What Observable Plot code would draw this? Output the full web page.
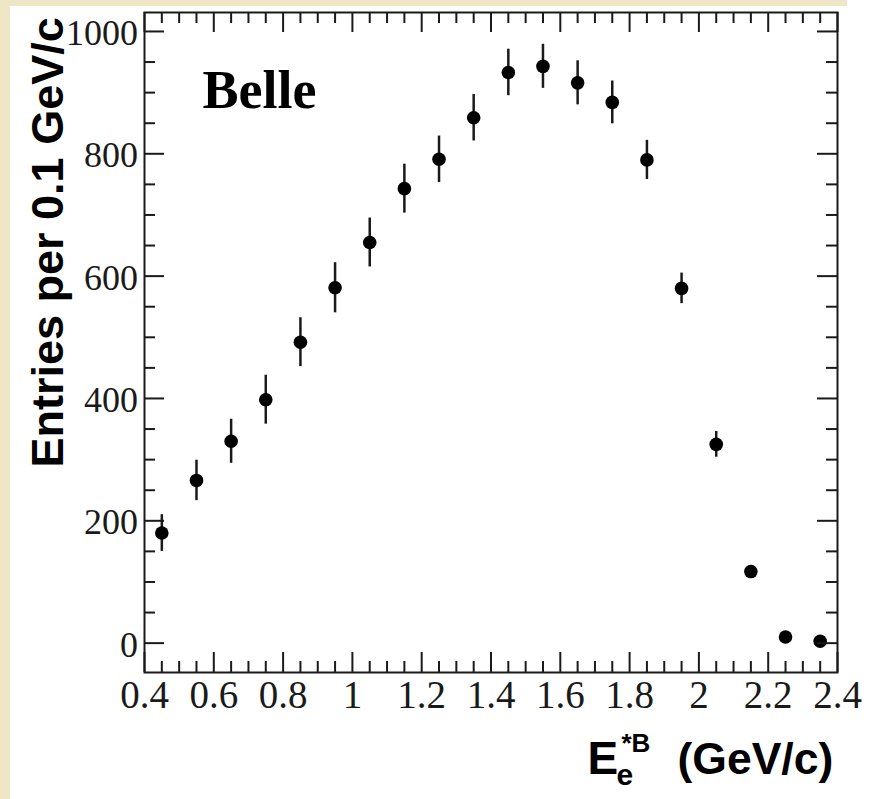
<!DOCTYPE html>
<html><head><meta charset="utf-8">
<script src="https://cdn.jsdelivr.net/npm/d3@7"></script>
<script src="https://cdn.jsdelivr.net/npm/@observablehq/plot@0.6"></script>
<style>
html,body{margin:0;padding:0;background:#fff;width:869px;height:799px;overflow:hidden;position:relative}
#bl{position:absolute;left:0;top:0;width:10px;height:799px;background:#efe6c5}
#bt{position:absolute;left:0;top:0;width:847px;height:6px;background:#efe6c5}
#chart{position:absolute;left:0;top:0}
</style></head><body>
<div id="bl"></div><div id="bt"></div><div id="chart"></div>
<script>
// Data
const binCenters = [0.45,0.55,0.65,0.75,0.85,0.95,1.05,1.15,1.25,1.35,1.45,1.55,1.65,1.75,1.85,1.95,2.05,2.15,2.25,2.35];
const entries    = [180, 266, 330, 398, 492, 581, 655, 743, 791, 859, 933, 943, 916, 884, 790, 580, 325, 117, 10, 3];
const errors     = [30, 33, 36, 40, 40, 41, 40, 40, 38, 38, 38, 36, 36, 35, 32, 25, 21, 9, 3, 1];

const xTickValues = [0.4,0.6,0.8,1.0,1.2,1.4,1.6,1.8,2.0,2.2,2.4];
const xTickLabels = ["0.4","0.6","0.8","1","1.2","1.4","1.6","1.8","2","2.2","2.4"];
const yTickValues = [0,200,400,600,800,1000];
const yTickLabels = ["0","200","400","600","800","1000"];

const xMinor = d3.range(0, 41).map(i => +(0.4 + i*0.05).toFixed(2)).filter(v => !xTickValues.some(t => Math.abs(t - v) < 1e-6));
const yMinor = d3.range(0, 21).map(i => i*50).filter(v => v % 200 !== 0);

const rows = binCenters.map((x, i) => ({x, y: entries[i], lo: entries[i] - errors[i], hi: entries[i] + errors[i]}));

const W = 869, H = 799, mL = 144, mR = 32, mT = 12, mB = 127;
const fw = W - mL - mR, fh = H - mT - mB;
const MAJ = 20, MIN = 11;
const ink = "#1a1a1a";
const serif = "Liberation Serif, Times New Roman, serif";
const sans = "Liberation Sans, Arial, Helvetica, sans-serif";

const plot = Plot.plot({
  width: W, height: H,
  marginLeft: mL, marginRight: mR, marginTop: mT, marginBottom: mB,
  style: {background: "transparent", overflow: "visible"},
  x: {domain: [0.4, 2.4], axis: null},
  y: {domain: [-48, 1031], axis: null},
  marks: [
    Plot.ruleX(rows, {x: "x", y1: "lo", y2: "hi", stroke: ink, strokeWidth: 2.5}),
    Plot.dot(rows, {x: "x", y: "y", r: 6.8, fill: "black", stroke: "none"}),
    // ticks bottom / top
    Plot.tickX(xTickValues, {x: d => d, insetTop: fh - MAJ, stroke: ink, strokeWidth: 2}),
    Plot.tickX(xMinor, {x: d => d, insetTop: fh - MIN, stroke: ink, strokeWidth: 2}),
    Plot.tickX(xTickValues, {x: d => d, insetBottom: fh - MAJ, stroke: ink, strokeWidth: 2}),
    Plot.tickX(xMinor, {x: d => d, insetBottom: fh - MIN, stroke: ink, strokeWidth: 2}),
    // ticks left / right
    Plot.tickY(yTickValues, {y: d => d, insetRight: fw - MAJ, stroke: ink, strokeWidth: 2}),
    Plot.tickY(yMinor, {y: d => d, insetRight: fw - MIN, stroke: ink, strokeWidth: 2}),
    Plot.tickY(yTickValues, {y: d => d, insetLeft: fw - MAJ, stroke: ink, strokeWidth: 2}),
    Plot.tickY(yMinor, {y: d => d, insetLeft: fw - MIN, stroke: ink, strokeWidth: 2}),
    Plot.frame({stroke: ink, strokeWidth: 2}),
    // tick labels
    Plot.text(xTickValues, {x: d => d, text: (d, i) => xTickLabels[i], frameAnchor: "bottom", dy: 8,
      lineAnchor: "top", textAnchor: "middle", fontSize: 39, fontFamily: serif, fill: ink}),
    Plot.text(yTickValues, {y: d => d, text: (d, i) => yTickLabels[i], frameAnchor: "left", dx: -6.5, dy: 2,
      lineAnchor: "middle", textAnchor: "end", fontSize: 36, fontFamily: serif, fill: ink}),
    // Belle label
    Plot.text(["Belle"], {text: d => d, frameAnchor: "top-left", dx: 58, dy: 95, textAnchor: "start",
      lineAnchor: "bottom", fontSize: 54, fontWeight: "bold", fontFamily: serif, fill: "black"}),
    // y title
    Plot.text(["Entries per 0.1 GeV/c"], {text: d => d, frameAnchor: "left", dx: -82, dy: 125, rotate: -90,
      textAnchor: "start", lineAnchor: "bottom", fontSize: 45, fontWeight: "bold", fontFamily: sans, fill: "black"}),
    // x title pieces
    Plot.text(["E"], {text: d => d, frameAnchor: "bottom-left", dx: 443, dy: 101, textAnchor: "start",
      lineAnchor: "bottom", fontSize: 46, fontWeight: "bold", fontFamily: sans, fill: "black"}),
    Plot.text(["e"], {text: d => d, frameAnchor: "bottom-left", dx: 472, dy: 112, textAnchor: "start",
      lineAnchor: "bottom", fontSize: 30, fontWeight: "bold", fontFamily: sans, fill: "black"}),
    Plot.text(["*B"], {text: d => d, frameAnchor: "bottom-left", dx: 477, dy: 79, textAnchor: "start",
      lineAnchor: "bottom", fontSize: 26, fontWeight: "bold", fontFamily: sans, fill: "black"}),
    Plot.text(["(GeV/c)"], {text: d => d, frameAnchor: "bottom-left", dx: 533, dy: 101, textAnchor: "start",
      lineAnchor: "bottom", fontSize: 44.5, fontWeight: "bold", fontFamily: sans, fill: "black"})
  ]
});
document.getElementById("chart").appendChild(plot);
</script>
</body></html>
